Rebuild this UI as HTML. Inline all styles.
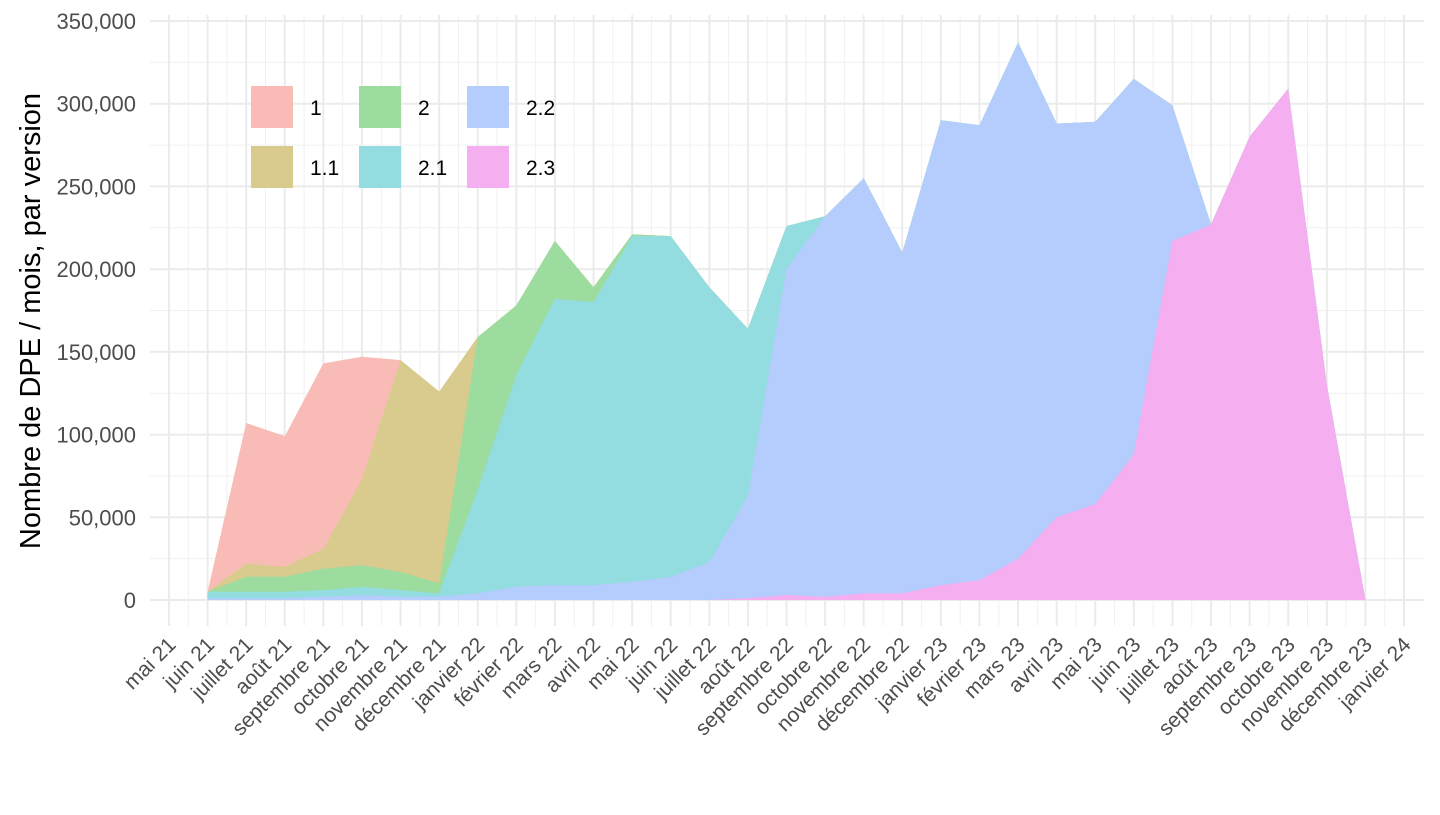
<!DOCTYPE html>
<html><head><meta charset="utf-8"><style>
html,body{margin:0;padding:0;background:#fff;}
svg text{font-family:"Liberation Sans",Arial,sans-serif;}
</style></head><body>
<svg id="s" width="1440" height="810" xmlns="http://www.w3.org/2000/svg"></svg>
<script>
const s=document.getElementById('s');
const months=["mai 21","juin 21","juillet 21","août 21","septembre 21","octobre 21","novembre 21","décembre 21","janvier 22","février 22","mars 22","avril 22","mai 22","juin 22","juillet 22","août 22","septembre 22","octobre 22","novembre 22","décembre 22","janvier 23","février 23","mars 23","avril 23","mai 23","juin 23","juillet 23","août 23","septembre 23","octobre 23","novembre 23","décembre 23","janvier 24"];
const X=i=>169+i*(1404-169)/32;
const Y=v=>600-v*(579/350);
let h='';
for(let v=25;v<=350;v+=50) h+=`<line x1="150" x2="1424" y1="${Y(v)}" y2="${Y(v)}" stroke="#f0f0f0" stroke-width="1"/>`;
for(let v=0;v<=350;v+=50) h+=`<line x1="150" x2="1424" y1="${Y(v)}" y2="${Y(v)}" stroke="#ebebeb" stroke-width="2"/>`;
for(let i=0;i<32;i++) h+=`<line y1="15" y2="626" x1="${X(i+0.5)}" x2="${X(i+0.5)}" stroke="#f0f0f0" stroke-width="1"/>`;
for(let i=0;i<=32;i++) h+=`<line y1="15" y2="626" x1="${X(i)}" x2="${X(i)}" stroke="#ebebeb" stroke-width="2"/>`;
const C6=[5,107,99,143,147,145,126,159,178,217,189,221,220,189,164,226,232,255,210,290,287,337,288,289,315,299,227,280,309,130,0];
const C5=[5,22,20,31,73,145,126,159,178,217,189,221,220,189,164,226,232,255,210,290,287,337,288,289,315,299,227,280,309,130,0];
const C4=[5,14,14,19,21,17,10,159,178,217,189,221,220,189,164,226,232,255,210,290,287,337,288,289,315,299,227,280,309,130,0];
const C3=[5,5,5,6,8,6,4,67,136,182,180,220,220,189,164,226,232,255,210,290,287,337,288,289,315,299,227,280,309,130,0];
const C2=[1,1,1,2,3,2,2,4,8,9,9,11,14,23,63,200,232,255,210,290,287,337,288,289,315,299,227,280,309,130,0];
const C1=[0,0,0,0,0,0,0,0,0,0,0,0,0,0,1,3,2,4,4,9,12,25,50,58,88,217,227,280,309,130,0];
const cols=["#f8bbb6","#d9cb8e","#9cdc9f","#93dcdf","#b4cdfc","#f5aef0"];
[C6,C5,C4,C3,C2,C1].forEach((c,k)=>{
 let p=c.map((v,i)=>`${X(i+1).toFixed(1)},${Y(v).toFixed(1)}`).join(' ');
 p+=` ${X(31)},${Y(0)} ${X(1)},${Y(0)}`;
 h+=`<polygon points="${p}" fill="${cols[k]}"/>`;
});
for(let v=0;v<=350;v+=50){const t=v==0?'0':(v+',000');h+=`<text x="136" y="${Y(v)+8}" text-anchor="end" font-size="22" fill="#4d4d4d">${t}</text>`;}
months.forEach((m,i)=>{const x=X(i)+8;h+=`<text transform="translate(${x},646) rotate(-45)" text-anchor="end" font-size="21" fill="#4d4d4d">${m}</text>`;});
h+=`<text transform="translate(40,321) rotate(-90)" text-anchor="middle" font-size="29" fill="#000">Nombre de DPE / mois, par version</text>`;
const leg=[["1",251,86,0],["1.1",251,146,1],["2",359,86,2],["2.1",359,146,3],["2.2",467,86,4],["2.3",467,146,5]];
leg.forEach(([t,x,y,k])=>{h+=`<rect x="${x}" y="${y}" width="42" height="42" fill="${cols[k]}"/><text x="${x+59}" y="${y+29}" font-size="21" fill="#000">${t}</text>`;});
s.innerHTML=h;
</script>
</body></html>
